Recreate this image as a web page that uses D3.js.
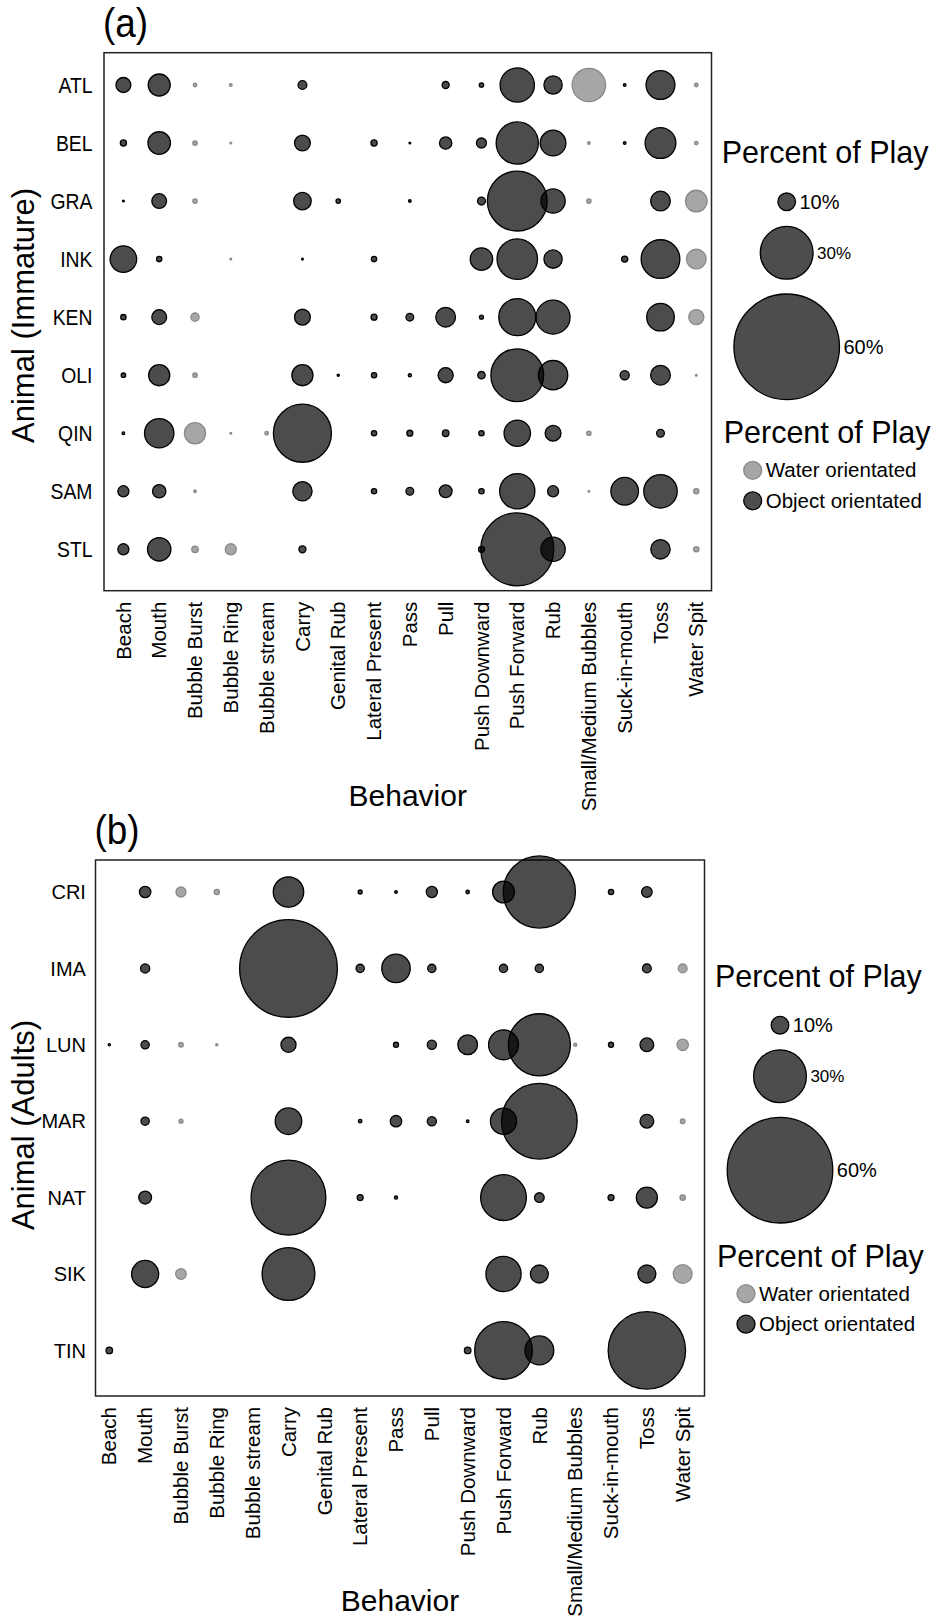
<!DOCTYPE html>
<html>
<head>
<meta charset="utf-8">
<script src="https://cdn.jsdelivr.net/npm/d3@7"></script>
<style>
  body { margin: 0; background: #fff; }
  svg { display: block; font-family: "Liberation Sans", Arial, Helvetica, sans-serif; }
</style>
</head>
<body>
<div id="viz"></div>
<script>
var behaviors = ['Beach', 'Mouth', 'Bubble Burst', 'Bubble Ring', 'Bubble stream', 'Carry',
  'Genital Rub', 'Lateral Present', 'Pass', 'Pull', 'Push Downward', 'Push Forward', 'Rub',
  'Small/Medium Bubbles', 'Suck-in-mouth', 'Toss', 'Water Spit'];

// behaviours drawn in grey
var waterBehaviors = ['Bubble Burst', 'Bubble Ring', 'Bubble stream', 'Small/Medium Bubbles', 'Water Spit'];

var immatureAnimals = ['ATL', 'BEL', 'GRA', 'INK', 'KEN', 'OLI', 'QIN', 'SAM', 'STL'];
var adultAnimals = ['CRI', 'IMA', 'LUN', 'MAR', 'NAT', 'SIK', 'TIN'];

// percent of play, one row per animal, columns in the order of behaviors
var immaturePlay = [
  [8.5, 12.5, 2, 1.5, 0, 5, 0, 0, 0, 4, 2.5, 19.5, 10.4, 19, 1.5, 16.4, 2],
  [3.5, 12.8, 2.5, 1, 0, 9, 0, 3.5, 1, 7, 5.7, 24, 14.6, 1.5, 1.5, 17.5, 2],
  [1, 8.4, 2.5, 0, 0, 10, 2.5, 0, 1.5, 0, 4.5, 34, 13.8, 2.5, 0, 11.2, 12.3],
  [15.1, 3, 0, 1, 0, 1, 0, 3, 0, 0, 12.8, 23, 10.4, 0, 3.5, 22, 11.2],
  [3, 8.4, 4.7, 0, 0, 9, 0, 3.4, 4.4, 11.2, 2.3, 21, 19.3, 0, 0, 15.7, 8.6],
  [2.5, 12, 2.5, 0, 0, 12, 1.3, 3, 1.8, 8.6, 4.2, 30, 16.7, 0, 5.2, 11.2, 1],
  [1.5, 16.7, 12, 1, 2, 33, 0, 3, 3.4, 3.7, 3, 15, 9, 2.5, 0, 4.4, 0],
  [6.3, 7.6, 1.5, 0, 0, 11, 0, 3, 4.4, 7.3, 3, 20, 6.3, 1, 15.7, 19, 3],
  [6.3, 13.3, 3.7, 6.3, 0, 4, 0, 0, 0, 0, 3.4, 41.5, 13.8, 0, 0, 11, 3]
];

var adultPlay = [
  [0, 6.5, 5.7, 3, 0, 17.3, 0, 2.3, 1.5, 6.3, 2, 12.4, 41, 0, 3, 6, 0],
  [0, 5.2, 0, 0, 0, 55.5, 0, 4.7, 16.2, 4.7, 0, 4.7, 4.7, 0, 0, 5, 5],
  [1.3, 4.7, 2.6, 1.3, 0, 8.6, 0, 0, 2.9, 5.2, 11.2, 17, 35.3, 1.8, 2.9, 7.8, 6.5],
  [0, 4.7, 2.3, 0, 0, 15.1, 0, 2, 6.5, 5.2, 1.5, 14.9, 43, 0, 0, 7.8, 2.6],
  [0, 7.3, 0, 0, 0, 42.5, 0, 3.4, 1.8, 0, 0, 26, 5.5, 0, 3.4, 12, 3.1],
  [0, 15.4, 6, 0, 0, 30, 0, 0, 0, 0, 0, 20, 10.2, 0, 0, 10.2, 10.7],
  [3.7, 0, 0, 0, 0, 0, 0, 0, 0, 0, 3.7, 32.8, 16.4, 0, 0, 44, 0]
];

var legendSizes = [10, 30, 60];
var legendTypes = ['Water orientated', 'Object orientated'];

var width = 937, height = 1621;

var svg = d3.select('#viz').append('svg')
  .attr('width', width)
  .attr('height', height)
  .style('background', '#fff');

// radius is linear in percent
var rScale = d3.scaleLinear().domain([0, 60]).range([0, 52.8]);

function drawPanel(p) {
  var g = svg.append('g');

  var xScale = d3.scalePoint().domain(behaviors).range(p.xRange);
  var yScale = d3.scalePoint().domain(p.animals).range(p.yRange);

  g.append('text')
    .attr('transform', 'translate(' + (p.box[0] - 1) + ',' + (p.box[1] - 16) + ') scale(0.9,1)')
    .style('font-size', '41px')
    .text(p.tag);

  g.append('rect')
    .attr('x', p.box[0])
    .attr('y', p.box[1])
    .attr('width', p.box[2] - p.box[0])
    .attr('height', p.box[3] - p.box[1])
    .attr('fill', 'none')
    .attr('stroke', '#222')
    .attr('stroke-width', 1.5);

  var cells = [];
  p.values.forEach(function(row, i) {
    row.forEach(function(v, j) {
      if (v > 0) cells.push({ animal: p.animals[i], behavior: behaviors[j], value: v });
    });
  });

  g.selectAll('circle.dot').data(cells)
    .enter().append('circle')
      .attr('class', 'dot')
      .attr('cx', function(d) { return xScale(d.behavior); })
      .attr('cy', function(d) { return yScale(d.animal); })
      .attr('r', function(d) { return rScale(d.value); })
      .attr('fill', function(d) { return waterBehaviors.indexOf(d.behavior) >= 0 ? '#808080' : '#000'; })
      .attr('fill-opacity', 0.7)
      .attr('stroke', function(d) { return waterBehaviors.indexOf(d.behavior) >= 0 ? '#8a8a8a' : '#000'; })
      .attr('stroke-width', 1.3);

  // row labels
  g.selectAll('text.row').data(p.animals)
    .enter().append('text')
      .attr('class', 'row')
      .attr('transform', function(d) {
        return 'translate(' + (p.box[0] - p.rowGap) + ',' + yScale(d) + ') scale(' + p.rowScale + ',1)';
      })
      .attr('dy', '0.36em')
      .attr('text-anchor', 'end')
      .style('font-size', p.rowFont)
      .text(function(d) { return d; });

  // column labels
  g.selectAll('text.col').data(behaviors)
    .enter().append('text')
      .attr('class', 'col')
      .attr('transform', function(d) {
        return 'translate(' + xScale(d) + ',' + (p.box[3] + 11) + ') rotate(-90)';
      })
      .attr('dy', '0.35em')
      .attr('text-anchor', 'end')
      .style('font-size', '20.5px')
      .text(function(d) { return d; });

  g.append('text')
    .attr('x', (p.box[0] + p.box[2]) / 2)
    .attr('y', p.box[3] + 215)
    .attr('text-anchor', 'middle')
    .style('font-size', '30px')
    .text('Behavior');

  g.append('text')
    .attr('transform', 'translate(34,' + p.yTitle + ') rotate(-90)')
    .attr('text-anchor', 'middle')
    .style('font-size', '31px')
    .text(p.yLabel);

  // size legend
  var lg = g.append('g');
  lg.append('text')
    .attr('x', p.legX)
    .attr('y', p.legY)
    .style('font-size', '30.5px')
    .text('Percent of Play');

  var cyPos = [p.legY + 38.5, p.legY + 89.5, p.legY + 183.5];
  var labSize = ['20px', '17px', '20px'];
  lg.selectAll('circle.size').data(legendSizes)
    .enter().append('circle')
      .attr('class', 'size')
      .attr('cx', p.legCx)
      .attr('cy', function(d, i) { return cyPos[i]; })
      .attr('r', function(d) { return rScale(d); })
      .attr('fill', '#4d4d4d')
      .attr('stroke', '#000')
      .attr('stroke-width', 1.3);
  lg.selectAll('text.size').data(legendSizes)
    .enter().append('text')
      .attr('class', 'size')
      .attr('x', function(d) { return p.legCx + rScale(d) + 4; })
      .attr('y', function(d, i) { return cyPos[i]; })
      .attr('dy', '0.35em')
      .style('font-size', function(d, i) { return labSize[i]; })
      .text(function(d) { return d + '%'; });

  // colour legend
  lg.append('text')
    .attr('x', p.legX + 2)
    .attr('y', p.legY + 280)
    .style('font-size', '30.5px')
    .text('Percent of Play');

  lg.selectAll('circle.type').data(legendTypes)
    .enter().append('circle')
      .attr('class', 'type')
      .attr('cx', p.legX + 31)
      .attr('cy', function(d, i) { return p.legY + 307 + i * 30.5; })
      .attr('r', 9)
      .attr('fill', function(d, i) { return i === 0 ? '#a6a6a6' : '#4d4d4d'; })
      .attr('stroke', function(d, i) { return i === 0 ? '#8a8a8a' : '#000'; })
      .attr('stroke-width', 1.3);
  lg.selectAll('text.type').data(legendTypes)
    .enter().append('text')
      .attr('class', 'type')
      .attr('x', p.legX + 44)
      .attr('y', function(d, i) { return p.legY + 307 + i * 30.5; })
      .attr('dy', '0.35em')
      .style('font-size', '20.5px')
      .text(function(d) { return d; });
}

drawPanel({
  tag: '(a)',
  animals: immatureAnimals,
  values: immaturePlay,
  box: [104, 52.7, 711.5, 590.7],
  xRange: [123.4, 696.3],
  yRange: [85, 549.3],
  rowFont: '22px',
  rowScale: 0.88,
  rowGap: 11.5,
  yLabel: 'Animal (Immature)',
  yTitle: 315.5,
  legX: 721.7,
  legY: 163.3,
  legCx: 786.7
});

drawPanel({
  tag: '(b)',
  animals: adultAnimals,
  values: adultPlay,
  box: [95.5, 860, 704.5, 1396],
  xRange: [109.3, 682.7],
  yRange: [892, 1350.4],
  rowFont: '20px',
  rowScale: 1,
  rowGap: 9.6,
  yLabel: 'Animal (Adults)',
  yTitle: 1125,
  legX: 715,
  legY: 986.7,
  legCx: 780
});
</script>
</body>
</html>
